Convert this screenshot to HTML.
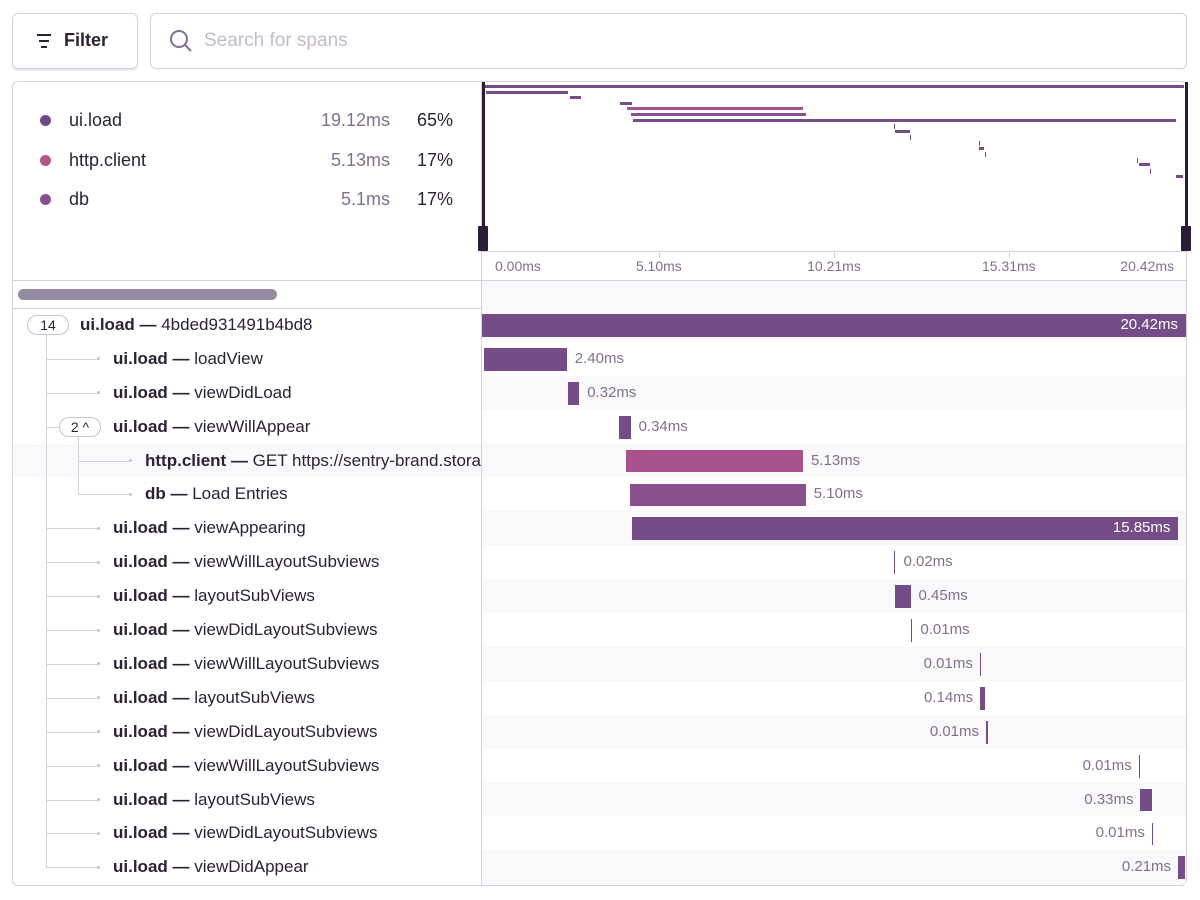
<!DOCTYPE html>
<html><head><meta charset="utf-8">
<style>
*{box-sizing:border-box;margin:0;padding:0}
body{width:1200px;height:900px;background:#fff;font-family:"Liberation Sans",sans-serif;color:#2b2233;position:relative;overflow:hidden}
.abs{position:absolute}
.btn{left:12px;top:13px;width:126px;height:56px;border:1px solid #d6d0dc;border-radius:6px;box-shadow:0 2px 0 #eeeaf1;font-weight:bold;font-size:18px}
.search{left:150px;top:13px;width:1037px;height:56px;border:1px solid #d6d0dc;border-radius:6px}
.panel{left:12px;top:81px;width:1175px;height:805px;border:1px solid #d6d0dc;border-radius:6px;overflow:hidden}
.lbl{font-size:18px;line-height:22px}
.muted{color:#80708f}
.tick{font-size:14px;color:#80708f}
.row-lbl{font-size:17px;line-height:22px;white-space:nowrap}
.dur{font-size:15px;line-height:20px;color:#80708f;white-space:nowrap}
</style></head><body>
<div class="abs btn">
  <svg class="abs" style="left:22px;top:18px" width="18" height="18"><path d="M2 3h14M4 9h10M6 15h6" stroke="#2b2233" stroke-width="2"/></svg>
  <span class="abs" style="left:51px;top:16px">Filter</span>
</div>
<div class="abs search">
  <svg class="abs" style="left:17px;top:14px" width="26" height="26"><circle cx="11" cy="11" r="8" fill="none" stroke="#80708f" stroke-width="2"/><path d="M17 17l6 6" stroke="#80708f" stroke-width="2"/></svg>
  <span class="abs" style="left:53px;top:16px;font-size:19px;color:#c3bacb">Search for spans</span>
</div>
<div class="abs panel"></div>
<div id="root"></div>
<script>
const names=["4bded931491b4bd8","loadView","viewDidLoad","viewWillAppear","GET https://sentry-brand.storage.googleapis.com","Load Entries","viewAppearing","viewWillLayoutSubviews","layoutSubViews","viewDidLayoutSubviews","viewWillLayoutSubviews","layoutSubViews","viewDidLayoutSubviews","viewWillLayoutSubviews","layoutSubViews","viewDidLayoutSubviews","viewDidAppear"];
const ops=["ui.load","ui.load","ui.load","ui.load","http.client","db","ui.load","ui.load","ui.load","ui.load","ui.load","ui.load","ui.load","ui.load","ui.load","ui.load","ui.load"];
const depths=[0,1,1,1,2,2,1,1,1,1,1,1,1,1,1,1,1];
const starts=[0,0.06,2.50,3.97,4.18,4.29,4.35,11.95,11.98,12.44,14.44,14.45,14.62,19.05,19.10,19.43,20.19];
const durations=[20.42,2.40,0.32,0.34,5.13,5.10,15.85,0.02,0.45,0.01,0.01,0.14,0.01,0.01,0.33,0.01,0.21];
const durLabels=["20.42ms","2.40ms","0.32ms","0.34ms","5.13ms","5.10ms","15.85ms","0.02ms","0.45ms","0.01ms","0.01ms","0.14ms","0.01ms","0.01ms","0.33ms","0.01ms","0.21ms"];
const tickVals=[0,5.10,10.21,15.31,20.42];
const tickLabels=["0.00ms","5.10ms","10.21ms","15.31ms","20.42ms"];
const legendOps=["ui.load","http.client","db"];
const legendTimes=["19.12ms","5.13ms","5.1ms"];
const legendPcts=["65%","17%","17%"];
const TOTAL=20.42;
const colors={"ui.load":"#744d88","http.client":"#a8518a","db":"#8a508d"};
const dotColors={"ui.load":"#6f4a88","http.client":"#b2578a","db":"#8a4f8f"};
const X0=482,X1=1186,xs=t=>X0+t/TOTAL*(X1-X0);
const M0=484,M1=1184,mx=t=>M0+t/TOTAL*(M1-M0);
const ROW0=308,RH=33.9;
const R=document.getElementById('root');
function mk(tag,style,html){const e=document.createElement(tag);e.className='abs';e.style.cssText=style;if(html!==undefined)e.innerHTML=html;R.appendChild(e);return e;}
let e;
e=mk('div','left:481px;top:82px;width:1px;height:803px;background:#d6d0dc');


e=mk('div','left:13px;top:280px;width:1173px;height:1px;background:#d6d0dc');


e=mk('div','left:13px;top:308px;width:1173px;height:1px;background:#d6d0dc');


e=mk('div','left:482px;top:251px;width:704px;height:1px;background:#d6d0dc');


e=mk('div','left:482px;top:281px;width:704px;height:27px;background:#f9f8fb');


e=mk('div','left:18px;top:289px;width:259px;height:11px;background:#958a9f;border-radius:6px');


legendOps.forEach((op,i)=>{
  const y=120+i*39.5;
  let d=mk('div',`left:40px;top:${y-5}px;width:11px;height:11px;border-radius:50%;background:${dotColors[op]}`);
  
  
  let t=mk('div',`left:69px;top:${y-11}px`,op);t.classList.add('lbl');
  
  
  let tm=mk('div',`left:250px;width:140px;text-align:right;top:${y-11}px`,legendTimes[i]);tm.classList.add('lbl','muted');
  
  
  let p=mk('div',`left:393px;width:60px;text-align:right;top:${y-11}px`,legendPcts[i]);p.classList.add('lbl');
  
  
});
starts.forEach((s,i)=>{
  const x=mx(s),w=Math.max(1,mx(s+durations[i])-x);
  const y=85+i*5.6;
  let b=mk('div',`left:${x}px;top:${y}px;width:${w}px;height:${w<2?5:3}px;background:${colors[ops[i]]}`);
  
  
});
[0,1].forEach(k=>{
  let l=mk('div',`left:${k?1185:482}px;top:82px;width:3px;height:168px;background:#2b1d38`);
  
  
  let h=mk('div',`left:${k?1181:478}px;top:226px;width:10px;height:25px;background:#2b1d38;border-radius:1px`);
  
  
});
tickVals.forEach((v,i)=>{
  const x=mx(v);
  if(i>0&&i<tickVals.length-1){let t=mk('div',`left:${x}px;top:252px;width:1px;height:6px;background:#d6d0dc`);
    
    }
  let style=i==0?`left:${x+11}px;top:258px`:(i==tickVals.length-1?`left:${x-82}px;width:72px;text-align:right;top:258px`:`left:${x-40}px;width:80px;text-align:center;top:258px`);
  let l=mk('div',style,tickLabels[i]);l.classList.add('tick');
  
  
});
names.forEach((n,i)=>{
  const top=ROW0+i*RH, cy=top+RH/2;
  if(i%2==0){let bg=mk('div',`left:482px;top:${top}px;width:704px;height:${RH}px;background:#f9f8fb`);
    
    }
  if(i==4){let bg=mk('div',`left:13px;top:${top}px;width:468px;height:${RH}px;background:#f9f8fb`);
    
    }
  const tx=depths[i]==0?80:(depths[i]==1?113:145);
  let lab=mk('div',`left:${tx}px;top:${cy-11}px;max-width:${481-tx}px;overflow:hidden`,`<b>${ops[i]} —</b> ${n}`);
  lab.classList.add('row-lbl');
  
  
  if(depths[i]>0){
    const vx=depths[i]==1?46:78;
    let h=mk('div',`left:${vx}px;top:${cy}px;width:${tx-15-vx}px;height:1px;background:#d6d0dc`);
    
    
    let d=mk('div',`left:${tx-16}px;top:${cy-1.5}px;width:3px;height:3px;background:#c9c1d0;border-radius:50%`);
    
    
  }
  const x=xs(starts[i]),w=Math.max(1.5,xs(starts[i]+durations[i])-x);
  let bar=mk('div',`left:${x}px;top:${top+6}px;width:${w}px;height:${RH-11}px;background:${colors[ops[i]]}`);
  
  
  let ls;
  if(w>600||(x+w>1100&&w>300)) ls=`left:${x+w-120}px;width:112px;text-align:right;color:#fff`;
  else if(starts[i]>13) ls=`left:${x-107}px;width:100px;text-align:right`;
  else ls=`left:${x+w+8}px`;
  let dl=mk('div',ls+`;top:${cy-10}px`,durLabels[i]);dl.classList.add('dur');
  
  
});
const lastCy=ROW0+16*RH+RH/2;
e=mk('div',`left:46px;top:${ROW0+27}px;width:1px;height:${lastCy-ROW0-27}px;background:#d6d0dc`);


e=mk('div',`left:78px;top:${ROW0+3*RH+27}px;width:1px;height:${2*RH-10}px;background:#d6d0dc`);


e=mk('div',`left:27px;top:${ROW0+7}px;width:42px;height:20px;border:1px solid #c9c1d0;border-radius:10px;background:#fff;font-size:14px;text-align:center;line-height:18px`,'14');


e=mk('div',`left:59px;top:${ROW0+3*RH+7}px;width:42px;height:20px;border:1px solid #c9c1d0;border-radius:10px;background:#fff;font-size:14px;text-align:center;line-height:18px`,'2 ^');


</script>
</body></html>
